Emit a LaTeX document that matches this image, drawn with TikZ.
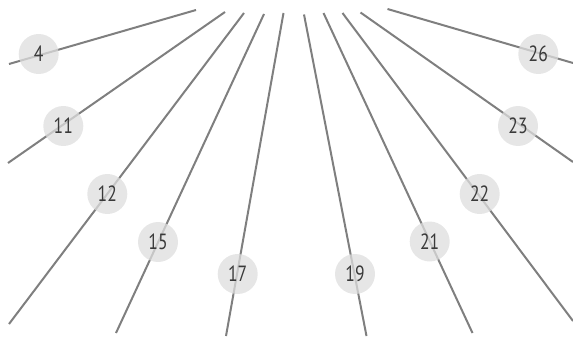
\documentclass[tikz,border=0pt]{standalone}
\usepackage{fontspec}
\setmainfont{PT Sans}[FakeStretch=0.8]
\definecolor{linegray}{HTML}{7F7F7F}
\definecolor{circgray}{HTML}{DEDEDE}
\definecolor{txtgray}{HTML}{3A3A3A}
\begin{document}
\begin{tikzpicture}[x=1pt,y=-1pt,
  ray/.style={draw=linegray,line width=2pt},
  badge/.style={circle,minimum size=40pt,inner sep=0pt,fill=circgray,fill opacity=0.75,text opacity=1,text=txtgray,font=\fontsize{22}{22}\selectfont}]
\useasboundingbox (0,0) rectangle (573,337);
% ray end points
\coordinate (a4) at (9,64);    \coordinate (b4) at (196,10);
\coordinate (a11) at (8,163);  \coordinate (b11) at (225,12);
\coordinate (a12) at (9,324);  \coordinate (b12) at (244,13);
\coordinate (a15) at (116,333);\coordinate (b15) at (264,14);
\coordinate (a17) at (226,336);\coordinate (b17) at (283.5,13);
\coordinate (a19) at (366.5,336);\coordinate (b19) at (304,14.5);
\coordinate (a21) at (472.5,333);\coordinate (b21) at (323.5,13);
\coordinate (a22) at (573,321);\coordinate (b22) at (342.5,13);
\coordinate (a23) at (573,162);\coordinate (b23) at (360.5,12.5);
\coordinate (a26) at (573,63); \coordinate (b26) at (387.5,9);
\foreach \n in {4,11,12,15,17,19,21,22,23,26}{\draw[ray] (a\n) -- (b\n);}
% badges
\node[badge] (n4) at (38.7,54) {4};
\node[badge] (n11) at (63.3,126) {11};
\node[badge] (n12) at (107.3,194) {12};
\node[badge] (n15) at (158,242) {15};
\node[badge] (n17) at (237.7,274) {17};
\node[badge] (n19) at (355,274) {19};
\node[badge] (n21) at (429.7,241.5) {21};
\node[badge] (n22) at (479.7,194) {22};
\node[badge] (n23) at (518,126) {23};
\node[badge] (n26) at (538.3,54) {26};
\end{tikzpicture}
\end{document}
